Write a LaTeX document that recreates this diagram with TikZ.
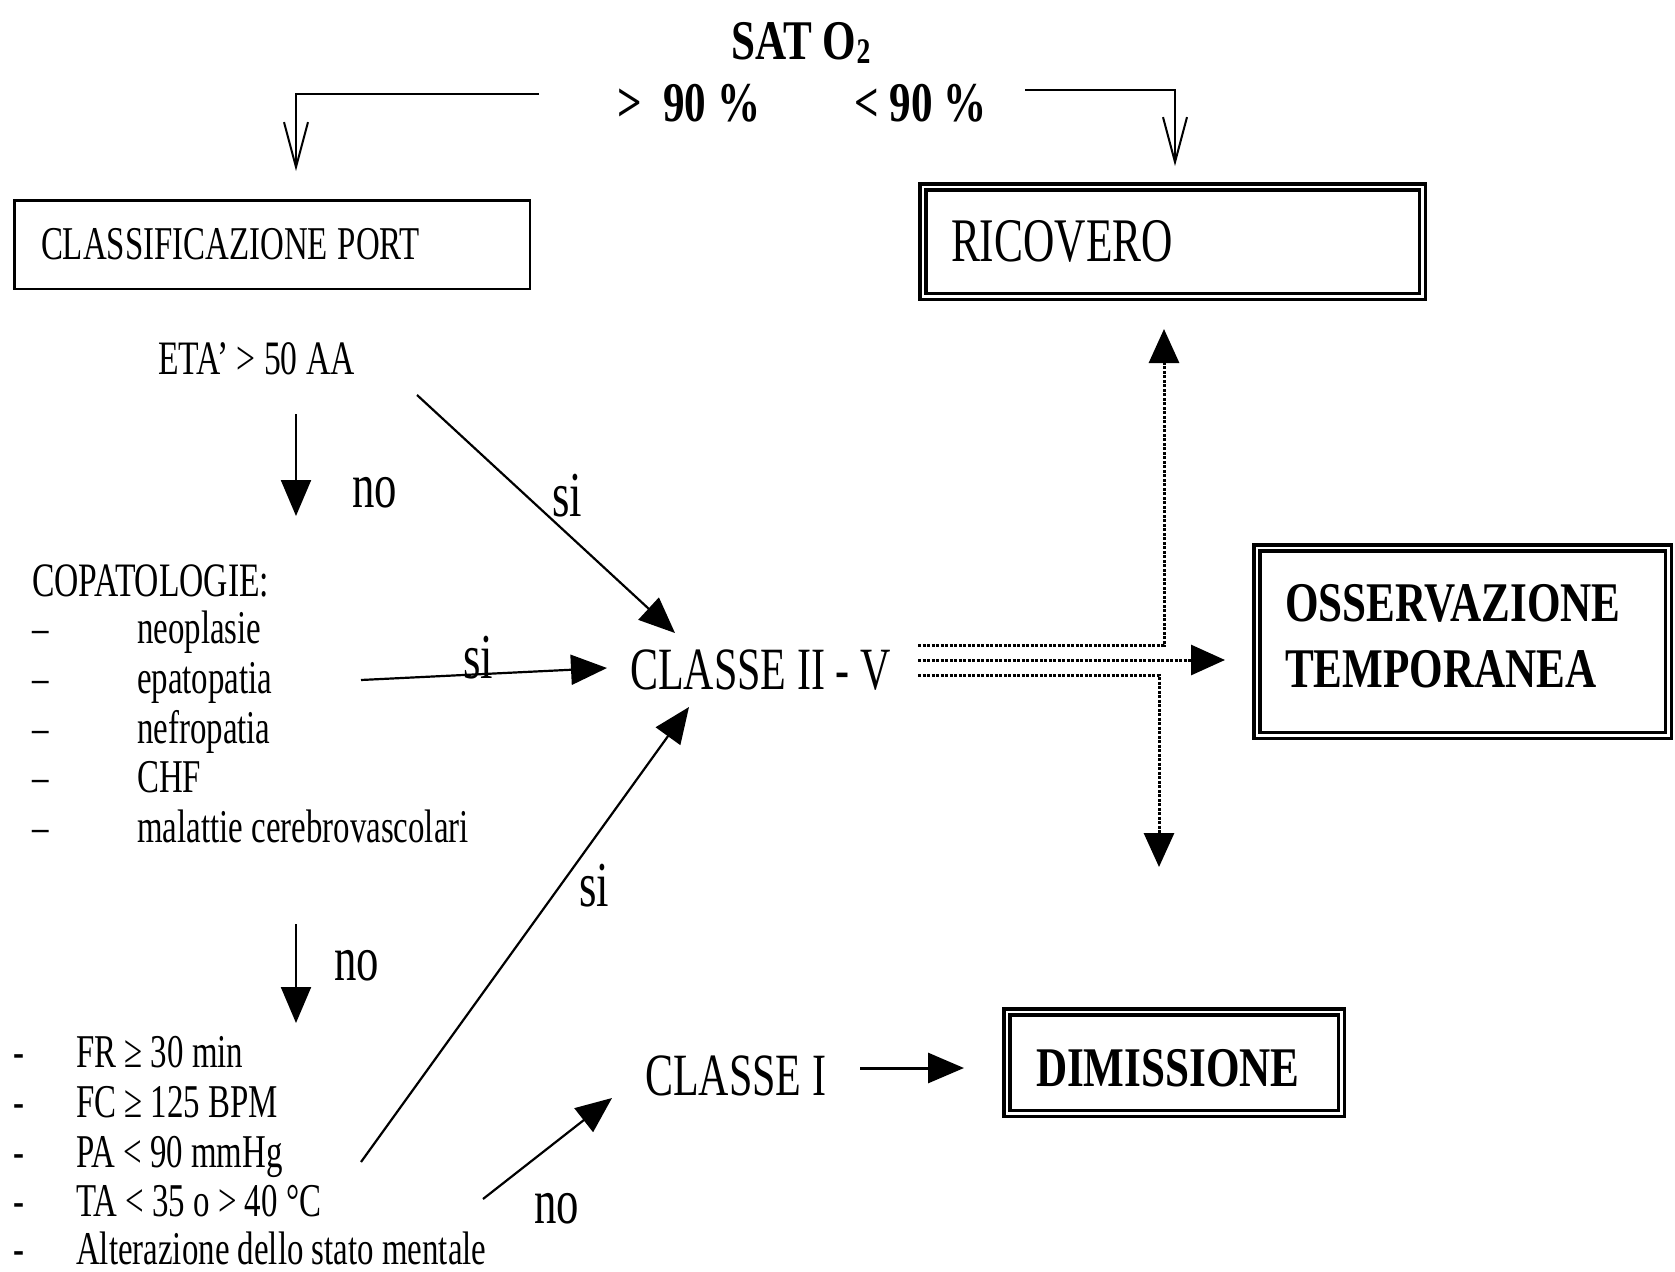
\documentclass[tikz,border=0pt]{standalone}
\usepackage{fontspec}
\setmainfont[FakeStretch=0.7]{Liberation Serif}
\newfontfamily\bfam[FakeStretch=0.77]{Liberation Serif}
\usetikzlibrary{arrows.meta}
\begin{document}
\begin{tikzpicture}[x=1pt,y=-1pt,
  txt/.style={inner sep=0pt, anchor=base west, font=\fontsize{48}{58}\selectfont},
  lst/.style={inner sep=0pt, anchor=base west, font=\fontsize{47}{58}\selectfont},
  big/.style={inner sep=0pt, anchor=base west, font=\fontsize{60}{72}\selectfont},
  lab/.style={inner sep=0pt, anchor=base west, font=\fontsize{64}{76}\selectfont},
  bld/.style={inner sep=0pt, anchor=base west, font=\fontsize{56}{66}\bfam\bfseries},
  dbox/.style={draw, double, line width=3.5pt, double distance=2.5pt, align=left, inner ysep=0pt},
  sbox/.style={draw, line width=2.5pt, align=left, inner ysep=0pt},
  arr/.style={line width=2.2pt, -{Triangle[length=36pt,width=30pt]}},
  openarr/.style={line width=2pt, -{Straight Barb[length=45pt,width=24pt]}},
  dotarr/.style={line width=3pt, dash pattern=on 3pt off 1.5pt, -{Triangle[length=34pt,width=30pt,sep=0pt]}}]
\useasboundingbox (0,0) rectangle (1675,1271);

% header
\node[bld, anchor=base] (sat) at (801,60) {SAT O\raisebox{-4pt}{\fontsize{36}{40}\bfam\bfseries 2}};
\node[bld] (gt) at (617,122) {>\ \ 90 \%};
\node[bld] (lt) at (854,122) {< 90 \%};

% boxes
\node[sbox, minimum width=515.5pt, minimum height=88.5pt, inner xsep=26.75pt, text width=462pt,
      font=\fontsize{47}{58}\selectfont] (port) at (272,244.5) {CLASSIFICAZIONE\hspace{10pt}PORT};
\node[dbox, minimum width=499.5pt, minimum height=109.5pt, inner xsep=28.25pt, text width=443pt,
      font=\fontsize{62}{74}\selectfont] (ric) at (1172.5,241.5) {RICOVERO};
\node[dbox, minimum width=411.5pt, minimum height=187.5pt, inner xsep=28.25pt, text width=355pt,
      text depth=77pt, font=\fontsize{56}{66}\bfam\bfseries] (oss) at (1462.5,641.5) {OSSERVAZIONE\\TEMPORANEA};
\node[dbox, minimum width=334.5pt, minimum height=101.5pt, inner xsep=29.25pt, text width=276pt,
      text height=48pt, font=\fontsize{56}{66}\bfam\bfseries] (dim) at (1174,1062.5) {DIMISSIONE};

% texts
\node[txt] (eta) at (158,374) {ETA’ > 50 AA};
\node[txt] (cop) at (32,596) {COPATOLOGIE:};
\node[lst] (c1) at (32,643) {\makebox[105pt][l]{–}neoplasie};
\node[lst] (c2) at (32,693) {\makebox[105pt][l]{–}epatopatia};
\node[lst] (c3) at (32,743) {\makebox[105pt][l]{–}nefropatia};
\node[lst] (c4) at (32,792) {\makebox[105pt][l]{–}CHF};
\node[lst] (c5) at (32,842) {\makebox[105pt][l]{–}malattie cerebrovascolari};

\node[lst] (p1) at (13,1067) {\makebox[63pt][l]{-}FR ≥ 30 min};
\node[lst] (p2) at (13,1117) {\makebox[63pt][l]{-}FC ≥ 125 BPM};
\node[lst] (p3) at (13,1167) {\makebox[63pt][l]{-}PA < 90 mmHg};
\node[lst] (p4) at (13,1216) {\makebox[63pt][l]{-}TA < 35 o > 40 °C};
\node[lst] (p5) at (13,1264) {\makebox[63pt][l]{-}Alterazione dello stato mentale};

\node[big] (c25) at (630,689) {CLASSE II - V};
\node[big] (c1n) at (645,1095) {CLASSE I};

% labels
\node[lab] (no1) at (352,507) {no};
\node[lab] (no2) at (334,980) {no};
\node[lab] (no3) at (534,1223) {no};
\node[lab] (si1) at (552,516) {si};
\node[lab] (si2) at (463,678) {si};
\node[lab] (si3) at (579,906) {si};

% coordinates of free ends
\coordinate (h1) at (539,94);
\coordinate (h1t) at (296,171);
\coordinate (h2) at (1025,90);
\coordinate (h2t) at (1175,166);
\coordinate (a1s) at (296,414);
\coordinate (a1e) at (296,516);
\coordinate (a2s) at (296,924);
\coordinate (a2e) at (296,1023);
\coordinate (d1s) at (417,395);
\coordinate (d1e) at (675,633);
\coordinate (hs) at (361,680);
\coordinate (he) at (607,668);
\coordinate (u1s) at (361,1162);
\coordinate (u1e) at (689,707);
\coordinate (u2s) at (483,1199);
\coordinate (u2e) at (612,1098);
\coordinate (r1s) at (860,1068);
\coordinate (r1e) at (964,1068);
\coordinate (t1) at (918,645);
\coordinate (t1c) at (1164,645);
\coordinate (t1e) at (1164,329);
\coordinate (t2) at (918,660);
\coordinate (t2e) at (1225,660);
\coordinate (t3) at (918,675);
\coordinate (t3c) at (1159,675);
\coordinate (t3e) at (1159,867);

% connectors
\draw[openarr] (h1) -| (h1t);
\draw[openarr] (h2) -| (h2t);
\draw[arr] (a1s) -- (a1e);
\draw[arr] (a2s) -- (a2e);
\draw[arr] (d1s) -- (d1e);
\draw[arr] (hs) -- (he);
\draw[arr] (u1s) -- (u1e);
\draw[arr] (u2s) -- (u2e);
\draw[arr, line width=3pt] (r1s) -- (r1e);
\draw[dotarr] (t1) -- (t1c) -- (t1e);
\draw[dotarr] (t2) -- (t2e);
\draw[dotarr] (t3) -- (t3c) -- (t3e);
\end{tikzpicture}
\end{document}
